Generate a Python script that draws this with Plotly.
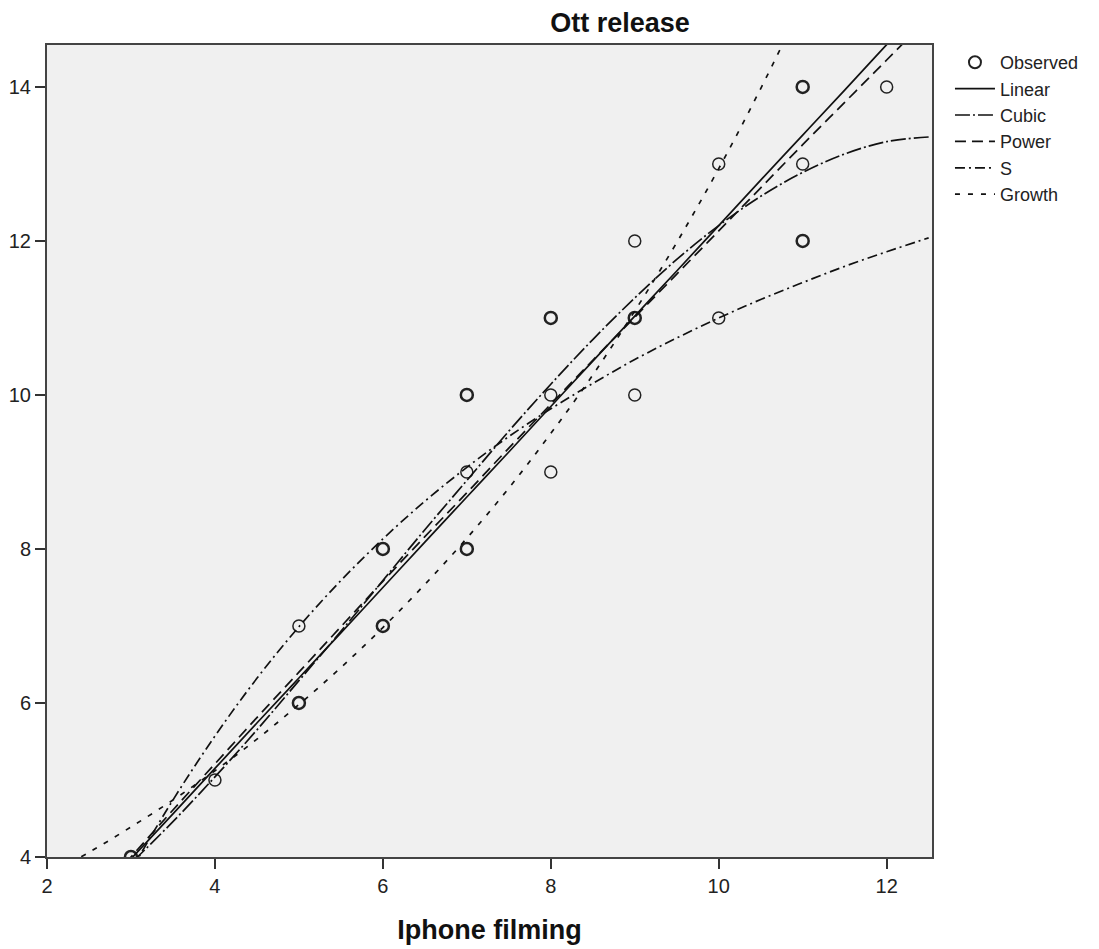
import plotly.graph_objects as go

# ---- Observed data (x, y, multiplicity: 2 = drawn bold / overlapping) ----
x_obs = [3, 4, 5, 5, 6, 6, 7, 7, 7, 8, 8, 8, 9, 9, 9, 10, 10, 11, 11, 11, 12]
y_obs = [4, 5, 7, 6, 8, 7, 10, 9, 8, 11, 10, 9, 12, 11, 10, 13, 11, 14, 13, 12, 14]
n_obs = [2, 1, 1, 2, 2, 2, 2, 1, 2, 2, 1, 1, 1, 2, 1, 1, 1, 2, 1, 2, 1]

# ---- Fitted curves at these x positions ----
curve_x = [2, 2.5, 3, 3.5, 4, 4.5, 5, 5.5, 6, 6.5, 7, 7.5, 8, 8.5, 9, 9.5,
           10, 10.5, 11, 11.5, 12, 12.5]
linear_y = [2.80, 3.39, 3.975, 4.56, 5.15, 5.74, 6.325, 6.91, 7.50, 8.09, 8.675,
            9.26, 9.85, 10.44, 11.025, 11.61, 12.20, 12.79, 13.375, 13.96, 14.55, 15.14]
cubic_y = [2.98, 3.43, 3.92, 4.46, 5.04, 5.65, 6.29, 6.93, 7.59, 8.25, 8.89,
           9.53, 10.14, 10.72, 11.26, 11.76, 12.20, 12.58, 12.89, 13.13, 13.29, 13.35]
power_y = [2.75, 3.38, 4.00, 4.61, 5.21, 5.81, 6.40, 6.99, 7.58, 8.16, 8.73,
           9.31, 9.88, 10.45, 11.01, 11.57, 12.13, 12.69, 13.25, 13.80, 14.35, 14.90]
s_y = [1.79, 2.82, 3.82, 4.74, 5.57, 6.32, 6.99, 7.59, 8.13, 8.62, 9.06,
       9.46, 9.82, 10.15, 10.46, 10.74, 11.00, 11.24, 11.46, 11.67, 11.86, 12.04]
growth_y = [3.76, 4.06, 4.39, 4.74, 5.12, 5.53, 5.98, 6.46, 6.98, 7.54, 8.14,
            8.79, 9.50, 10.26, 11.09, 11.98, 12.94, 13.98, 15.10, 16.31, 17.62, 19.03]

x_ticks = [2, 4, 6, 8, 10, 12]
y_ticks = [4, 6, 8, 10, 12, 14]

FONT = "Arial, Liberation Sans, sans-serif"

fig = go.Figure()

fig.add_trace(go.Scatter(
    x=x_obs, y=y_obs, mode="markers", name="Observed",
    marker=dict(symbol="circle-open", size=12, color="#222222",
                line=dict(width=[1.5 if n == 1 else 2.5 for n in n_obs],
                          color="#222222")),
))

curves = [
    ("Linear", linear_y, "solid"),
    ("Cubic", cubic_y, "15px,3px,2px,3px"),
    ("Power", power_y, "11px,6px"),
    ("S", s_y, "10px,4px,2px,4px"),
    ("Growth", growth_y, "5px,8px"),
]
for name, ys, dash in curves:
    fig.add_trace(go.Scatter(
        x=curve_x, y=ys, mode="lines", name=name,
        line=dict(color="#111111", width=1.7, dash=dash, shape="spline"),
    ))

fig.update_layout(
    width=1099, height=949,
    margin=dict(l=39, r=175, t=37, b=100, autoexpand=False),
    paper_bgcolor="white",
    plot_bgcolor="#F0F0F0",
    font=dict(family=FONT, size=20, color="#222222"),
    title=dict(text="<b>Ott release</b>", xref="container", x=612 / 1099,
               xanchor="center", y=1.0, yanchor="top", pad=dict(t=5),
               font=dict(family=FONT, size=27, color="#111111")),
    showlegend=True,
    legend=dict(x=1.0203, y=1.0 + 1 / 812, xanchor="left", yanchor="top",
                traceorder="normal",
                font=dict(family=FONT, size=18, color="#222222"),
                bgcolor="rgba(0,0,0,0)", itemwidth=40),
)

fig.update_xaxes(
    range=[2, 12.54], tickvals=x_ticks, ticks="outside", ticklen=10, tickwidth=2,
    tickcolor="#333333", showline=True, linecolor="#444444", linewidth=2,
    mirror=True, showgrid=False, zeroline=False, automargin=False,
    tickfont=dict(family=FONT, size=20, color="#222222"),
    title=dict(text="<b>Iphone filming</b>", standoff=24,
               font=dict(family=FONT, size=27, color="#111111")),
)
fig.update_yaxes(
    range=[4, 14.545], tickvals=y_ticks, ticks="outside", ticklen=10, tickwidth=2,
    tickcolor="#333333", showline=True, linecolor="#444444", linewidth=2,
    mirror=True, showgrid=False, zeroline=False, automargin=False,
    tickfont=dict(family=FONT, size=20, color="#222222"),
)

fig.write_html("out.html")
